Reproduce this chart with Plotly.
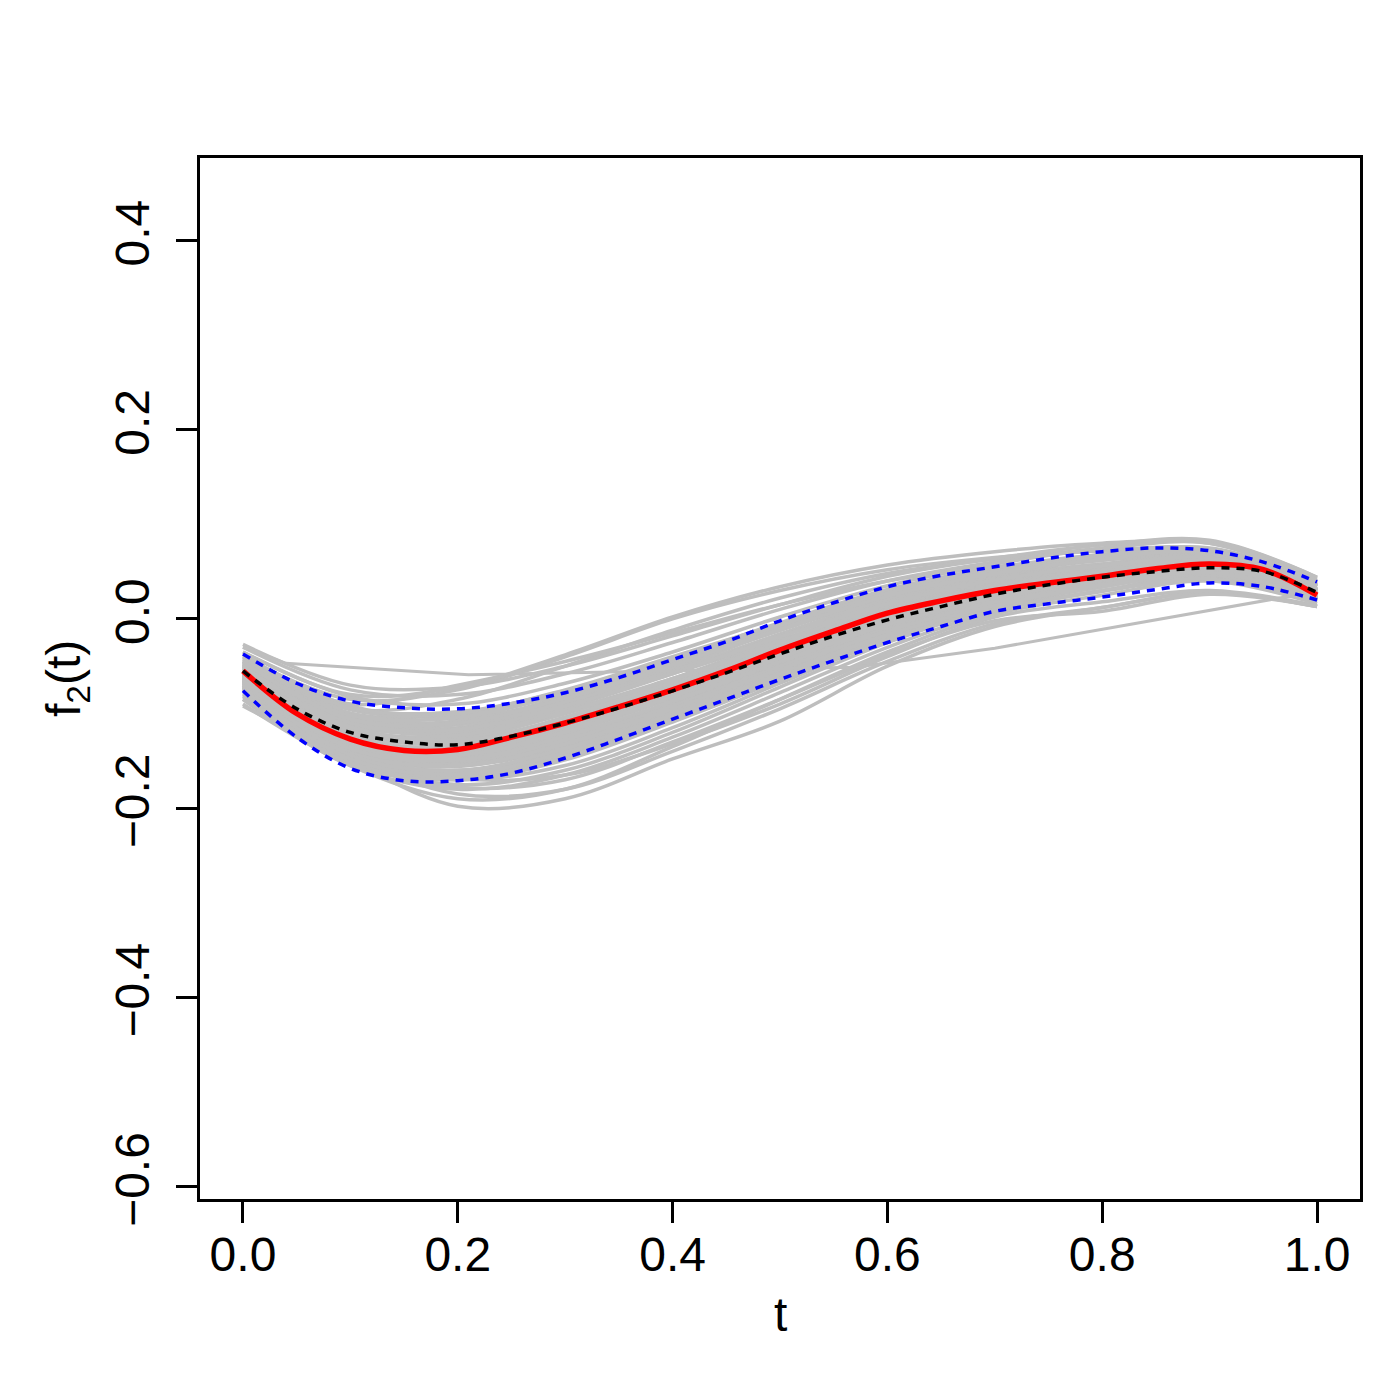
import plotly.graph_objects as go

# grid for the sampled gray curves
T_GRID = [0.0, 0.1, 0.2, 0.3, 0.4, 0.5, 0.6, 0.7, 0.8, 0.9, 1.0]

# gray replicate curves, outer part of the band (values read at T_GRID)
GRAY_OUTER = [
    [-0.040, -0.085, -0.075, -0.040, 0.000, 0.030, 0.052, 0.065, 0.072, 0.070, 0.035],
    [-0.045, -0.095, -0.085, -0.050, -0.012, 0.022, 0.048, 0.063, 0.072, 0.074, 0.038],
    [-0.030, -0.075, -0.080, -0.058, -0.025, 0.010, 0.040, 0.060, 0.075, 0.082, 0.044],
    [-0.035, -0.082, -0.090, -0.068, -0.035, 0.002, 0.035, 0.058, 0.074, 0.080, 0.042],
    [-0.050, -0.100, -0.100, -0.075, -0.040, -0.005, 0.028, 0.052, 0.068, 0.075, 0.040],
    [-0.042, -0.090, -0.070, -0.045, -0.015, 0.015, 0.040, 0.055, 0.063, 0.063, 0.030],
    [-0.060, -0.120, -0.120, -0.090, -0.050, -0.010, 0.025, 0.048, 0.062, 0.068, 0.032],
    [-0.055, -0.110, -0.115, -0.090, -0.058, -0.022, 0.012, 0.038, 0.055, 0.064, 0.030],
    [-0.065, -0.130, -0.140, -0.115, -0.078, -0.037, 0.002, 0.030, 0.048, 0.058, 0.025],
    [-0.050, -0.125, -0.140, -0.118, -0.082, -0.040, -0.002, 0.027, 0.045, 0.055, 0.024],
    [-0.058, -0.128, -0.145, -0.125, -0.090, -0.048, -0.008, 0.022, 0.042, 0.054, 0.026],
    [-0.070, -0.140, -0.152, -0.130, -0.092, -0.050, -0.010, 0.020, 0.040, 0.052, 0.022],
    [-0.075, -0.145, -0.160, -0.140, -0.100, -0.055, -0.012, 0.020, 0.040, 0.052, 0.022],
    [-0.080, -0.150, -0.170, -0.155, -0.115, -0.068, -0.022, 0.012, 0.034, 0.048, 0.020],
    [-0.085, -0.155, -0.180, -0.165, -0.125, -0.078, -0.030, 0.008, 0.030, 0.045, 0.018],
    [-0.090, -0.155, -0.190, -0.180, -0.135, -0.085, -0.035, 0.005, 0.025, 0.040, 0.016],
    [-0.092, -0.150, -0.198, -0.190, -0.148, -0.108, -0.050, -0.008, 0.012, 0.028, 0.013],
    [-0.078, -0.145, -0.185, -0.180, -0.140, -0.095, -0.045, -0.005, 0.012, 0.028, 0.013],
    [-0.060, -0.135, -0.168, -0.165, -0.132, -0.090, -0.040, 0.002, 0.018, 0.030, 0.014],
    [-0.052, -0.115, -0.125, -0.100, -0.065, -0.028, 0.008, 0.034, 0.050, 0.060, 0.028],
    [-0.048, -0.108, -0.120, -0.098, -0.066, -0.030, 0.004, 0.030, 0.046, 0.056, 0.026],
    [-0.062, -0.132, -0.145, -0.120, -0.083, -0.042, -0.003, 0.026, 0.044, 0.056, 0.025],
    [-0.068, -0.138, -0.150, -0.122, -0.080, -0.035, 0.005, 0.033, 0.050, 0.060, 0.027],
    [-0.040, -0.100, -0.110, -0.085, -0.050, -0.012, 0.022, 0.045, 0.058, 0.064, 0.030],
    [-0.072, -0.148, -0.165, -0.145, -0.105, -0.062, -0.018, 0.016, 0.038, 0.050, 0.021],
    [-0.058, -0.120, -0.128, -0.105, -0.072, -0.036, 0.000, 0.028, 0.046, 0.057, 0.025],
    [-0.082, -0.150, -0.175, -0.160, -0.120, -0.072, -0.025, 0.012, 0.035, 0.050, 0.020],
    [-0.038, -0.092, -0.102, -0.078, -0.045, -0.008, 0.026, 0.050, 0.064, 0.070, 0.034],
    [-0.065, -0.125, -0.135, -0.110, -0.074, -0.034, 0.003, 0.031, 0.048, 0.059, 0.027],
    [-0.075, -0.140, -0.155, -0.135, -0.095, -0.052, -0.010, 0.022, 0.042, 0.055, 0.024],
    [-0.027, -0.070, -0.072, -0.050, -0.018, 0.015, 0.045, 0.064, 0.078, 0.083, 0.044],
    [-0.085, -0.150, -0.178, -0.170, -0.130, -0.085, -0.038, -0.002, 0.008, 0.026, 0.013],
    [-0.035, -0.080, -0.072, -0.038, 0.002, 0.034, 0.057, 0.071, 0.080, 0.080, 0.040],
]

# gray replicate curves, dense core between the blue bands
GRAY_INNER = [
    [-0.045, -0.100, -0.105, -0.085, -0.052, -0.012, 0.024, 0.047, 0.062, 0.068, 0.034],
    [-0.050, -0.108, -0.112, -0.088, -0.055, -0.016, 0.020, 0.043, 0.058, 0.066, 0.032],
    [-0.048, -0.112, -0.120, -0.094, -0.058, -0.018, 0.018, 0.042, 0.057, 0.065, 0.031],
    [-0.053, -0.118, -0.126, -0.100, -0.063, -0.023, 0.014, 0.039, 0.054, 0.063, 0.030],
    [-0.056, -0.122, -0.130, -0.104, -0.068, -0.028, 0.010, 0.035, 0.051, 0.061, 0.028],
    [-0.060, -0.126, -0.134, -0.108, -0.072, -0.031, 0.007, 0.032, 0.048, 0.059, 0.026],
    [-0.052, -0.124, -0.136, -0.112, -0.077, -0.036, 0.003, 0.029, 0.046, 0.057, 0.025],
    [-0.057, -0.130, -0.142, -0.115, -0.079, -0.038, 0.001, 0.027, 0.044, 0.056, 0.024],
    [-0.062, -0.134, -0.147, -0.121, -0.084, -0.043, -0.004, 0.024, 0.042, 0.055, 0.024],
    [-0.066, -0.138, -0.151, -0.126, -0.088, -0.046, -0.007, 0.021, 0.040, 0.053, 0.023],
    [-0.069, -0.142, -0.156, -0.131, -0.093, -0.051, -0.011, 0.018, 0.038, 0.051, 0.022],
    [-0.072, -0.146, -0.161, -0.137, -0.098, -0.056, -0.015, 0.015, 0.035, 0.049, 0.021],
    [-0.058, -0.133, -0.150, -0.128, -0.092, -0.050, -0.010, 0.019, 0.039, 0.052, 0.023],
    [-0.046, -0.104, -0.116, -0.096, -0.063, -0.026, 0.011, 0.037, 0.054, 0.064, 0.031],
    [-0.063, -0.128, -0.133, -0.104, -0.066, -0.024, 0.014, 0.040, 0.056, 0.064, 0.030],
    [-0.067, -0.140, -0.148, -0.118, -0.077, -0.032, 0.008, 0.036, 0.052, 0.060, 0.027],
    [-0.054, -0.116, -0.123, -0.098, -0.064, -0.027, 0.009, 0.035, 0.052, 0.062, 0.029],
    [-0.059, -0.136, -0.154, -0.133, -0.097, -0.056, -0.016, 0.015, 0.036, 0.050, 0.022],
    [-0.064, -0.144, -0.163, -0.142, -0.104, -0.060, -0.018, 0.013, 0.034, 0.048, 0.021],
    [-0.070, -0.150, -0.166, -0.140, -0.099, -0.054, -0.012, 0.019, 0.039, 0.051, 0.022],
    [-0.044, -0.096, -0.100, -0.080, -0.048, -0.010, 0.026, 0.049, 0.064, 0.070, 0.036],
    [-0.049, -0.104, -0.108, -0.082, -0.046, -0.006, 0.029, 0.052, 0.066, 0.071, 0.036],
    [-0.074, -0.152, -0.168, -0.146, -0.106, -0.062, -0.020, 0.010, 0.030, 0.043, 0.019],
    [-0.061, -0.130, -0.139, -0.113, -0.076, -0.035, 0.004, 0.031, 0.048, 0.058, 0.026],
    [-0.055, -0.126, -0.140, -0.117, -0.081, -0.040, -0.001, 0.027, 0.045, 0.057, 0.025],
    [-0.043, -0.094, -0.098, -0.076, -0.042, -0.004, 0.031, 0.054, 0.068, 0.073, 0.037],
    [-0.047, -0.102, -0.104, -0.079, -0.044, -0.007, 0.027, 0.050, 0.065, 0.069, 0.035],
    [-0.051, -0.110, -0.117, -0.092, -0.057, -0.019, 0.016, 0.041, 0.056, 0.064, 0.031],
    [-0.054, -0.121, -0.131, -0.107, -0.071, -0.030, 0.008, 0.034, 0.050, 0.060, 0.027],
    [-0.063, -0.137, -0.149, -0.124, -0.087, -0.045, -0.006, 0.022, 0.041, 0.053, 0.023],
    [-0.068, -0.141, -0.155, -0.132, -0.095, -0.053, -0.013, 0.017, 0.037, 0.050, 0.022],
    [-0.071, -0.148, -0.164, -0.141, -0.102, -0.059, -0.017, 0.014, 0.034, 0.047, 0.020],
    [-0.073, -0.154, -0.170, -0.149, -0.109, -0.065, -0.022, 0.009, 0.029, 0.042, 0.019],
    [-0.050, -0.114, -0.128, -0.108, -0.075, -0.037, 0.001, 0.028, 0.046, 0.057, 0.026],
    [-0.057, -0.127, -0.137, -0.110, -0.073, -0.033, 0.006, 0.033, 0.050, 0.061, 0.028],
    [-0.045, -0.106, -0.110, -0.084, -0.049, -0.011, 0.024, 0.048, 0.063, 0.071, 0.035],
    [-0.066, -0.144, -0.160, -0.137, -0.101, -0.058, -0.017, 0.014, 0.036, 0.049, 0.021],
    [-0.060, -0.131, -0.144, -0.119, -0.082, -0.041, -0.002, 0.025, 0.043, 0.055, 0.024],
]

# one odd, piecewise-linear replicate
OUTLIER_T = [0.0, 0.04, 0.21, 0.57, 0.70, 0.97, 1.0]
OUTLIER_V = [-0.030, -0.047, -0.059, -0.051, -0.031, 0.023, 0.025]

# summary curves
T_FINE = [0.00, 0.05, 0.10, 0.15, 0.20, 0.25, 0.30, 0.35, 0.40, 0.45, 0.50,
          0.55, 0.60, 0.65, 0.70, 0.75, 0.80, 0.85, 0.90, 0.95, 1.00]
RED = [-0.055, -0.100, -0.127, -0.139, -0.138, -0.125, -0.110, -0.093, -0.075, -0.055, -0.033,
       -0.013, 0.006, 0.019, 0.030, 0.038, 0.045, 0.053, 0.058, 0.052, 0.025]
BLACK = [-0.055, -0.095, -0.120, -0.130, -0.133, -0.124, -0.110, -0.094, -0.076, -0.057, -0.037,
         -0.018, -0.001, 0.013, 0.026, 0.036, 0.044, 0.050, 0.054, 0.050, 0.028]
BLUE_UP = [-0.037, -0.068, -0.087, -0.094, -0.095, -0.089, -0.078, -0.062, -0.043, -0.024, -0.002,
           0.017, 0.034, 0.046, 0.055, 0.064, 0.071, 0.075, 0.072, 0.060, 0.039]
BLUE_LO = [-0.076, -0.125, -0.158, -0.171, -0.171, -0.163, -0.147, -0.127, -0.106, -0.085, -0.064,
           -0.044, -0.025, -0.008, 0.008, 0.016, 0.023, 0.031, 0.038, 0.034, 0.020]

X_TICKS = [0.0, 0.2, 0.4, 0.6, 0.8, 1.0]
Y_TICKS = [-0.6, -0.4, -0.2, 0.0, 0.2, 0.4]

GRAY = "#BEBEBE"
FONT = "Liberation Sans, Arial, sans-serif"
DASH = "8px,7px"

fig = go.Figure()

# ── replicate curves ─────────────────────────────────────────────
for vals in GRAY_OUTER + GRAY_INNER:
    fig.add_trace(go.Scatter(x=T_GRID, y=vals, mode="lines",
                             line=dict(color=GRAY, width=3.5, shape="spline"),
                             hoverinfo="skip"))
fig.add_trace(go.Scatter(x=OUTLIER_T, y=OUTLIER_V, mode="lines",
                         line=dict(color=GRAY, width=3), hoverinfo="skip"))

# ── estimate, truth and bands ────────────────────────────────────
fig.add_trace(go.Scatter(x=T_FINE, y=RED, mode="lines",
                         line=dict(color="#FF0000", width=5.5, shape="spline")))
fig.add_trace(go.Scatter(x=T_FINE, y=BLACK, mode="lines",
                         line=dict(color="#000000", width=3.5, dash=DASH, shape="spline")))
fig.add_trace(go.Scatter(x=T_FINE, y=BLUE_UP, mode="lines",
                         line=dict(color="#0000FF", width=3.5, dash=DASH, shape="spline")))
fig.add_trace(go.Scatter(x=T_FINE, y=BLUE_LO, mode="lines",
                         line=dict(color="#0000FF", width=3.5, dash=DASH, shape="spline")))

axis_common = dict(
    showgrid=False, zeroline=False,
    showline=True, linecolor="black", linewidth=3, mirror=True,
    ticks="outside", ticklen=21, tickwidth=3, tickcolor="black",
    tickfont=dict(size=48, color="black", family=FONT),
)

# page body adds an 8px offset, so the figure is 1392 wide/high
fig.update_layout(
    width=1392, height=1392,
    paper_bgcolor="white", plot_bgcolor="white",
    showlegend=False,
    margin=dict(l=192, r=40, t=150, b=201),
    xaxis=dict(range=[-0.040, 1.040], tickvals=X_TICKS,
               ticktext=[f"{v:.1f}" for v in X_TICKS],
               ticklabelstandoff=-10, **axis_common),
    yaxis=dict(range=[-0.613, 0.487], tickvals=Y_TICKS,
               ticktext=[f"{v:.1f}".replace("-", "\u2212") for v in Y_TICKS],
               tickangle=-90, ticklabelstandoff=8, **axis_common),
    annotations=[
        dict(text="t", xref="paper", yref="paper", x=0.5, y=-0.1114,
             xanchor="center", yanchor="middle", showarrow=False,
             font=dict(size=48, color="black", family=FONT)),
        dict(text="f<sub>2</sub>(t)", xref="paper", yref="paper", x=-0.115, y=0.5,
             xanchor="center", yanchor="middle", textangle=-90, showarrow=False,
             font=dict(size=48, color="black", family=FONT)),
    ],
)

fig.write_html("out.html")
